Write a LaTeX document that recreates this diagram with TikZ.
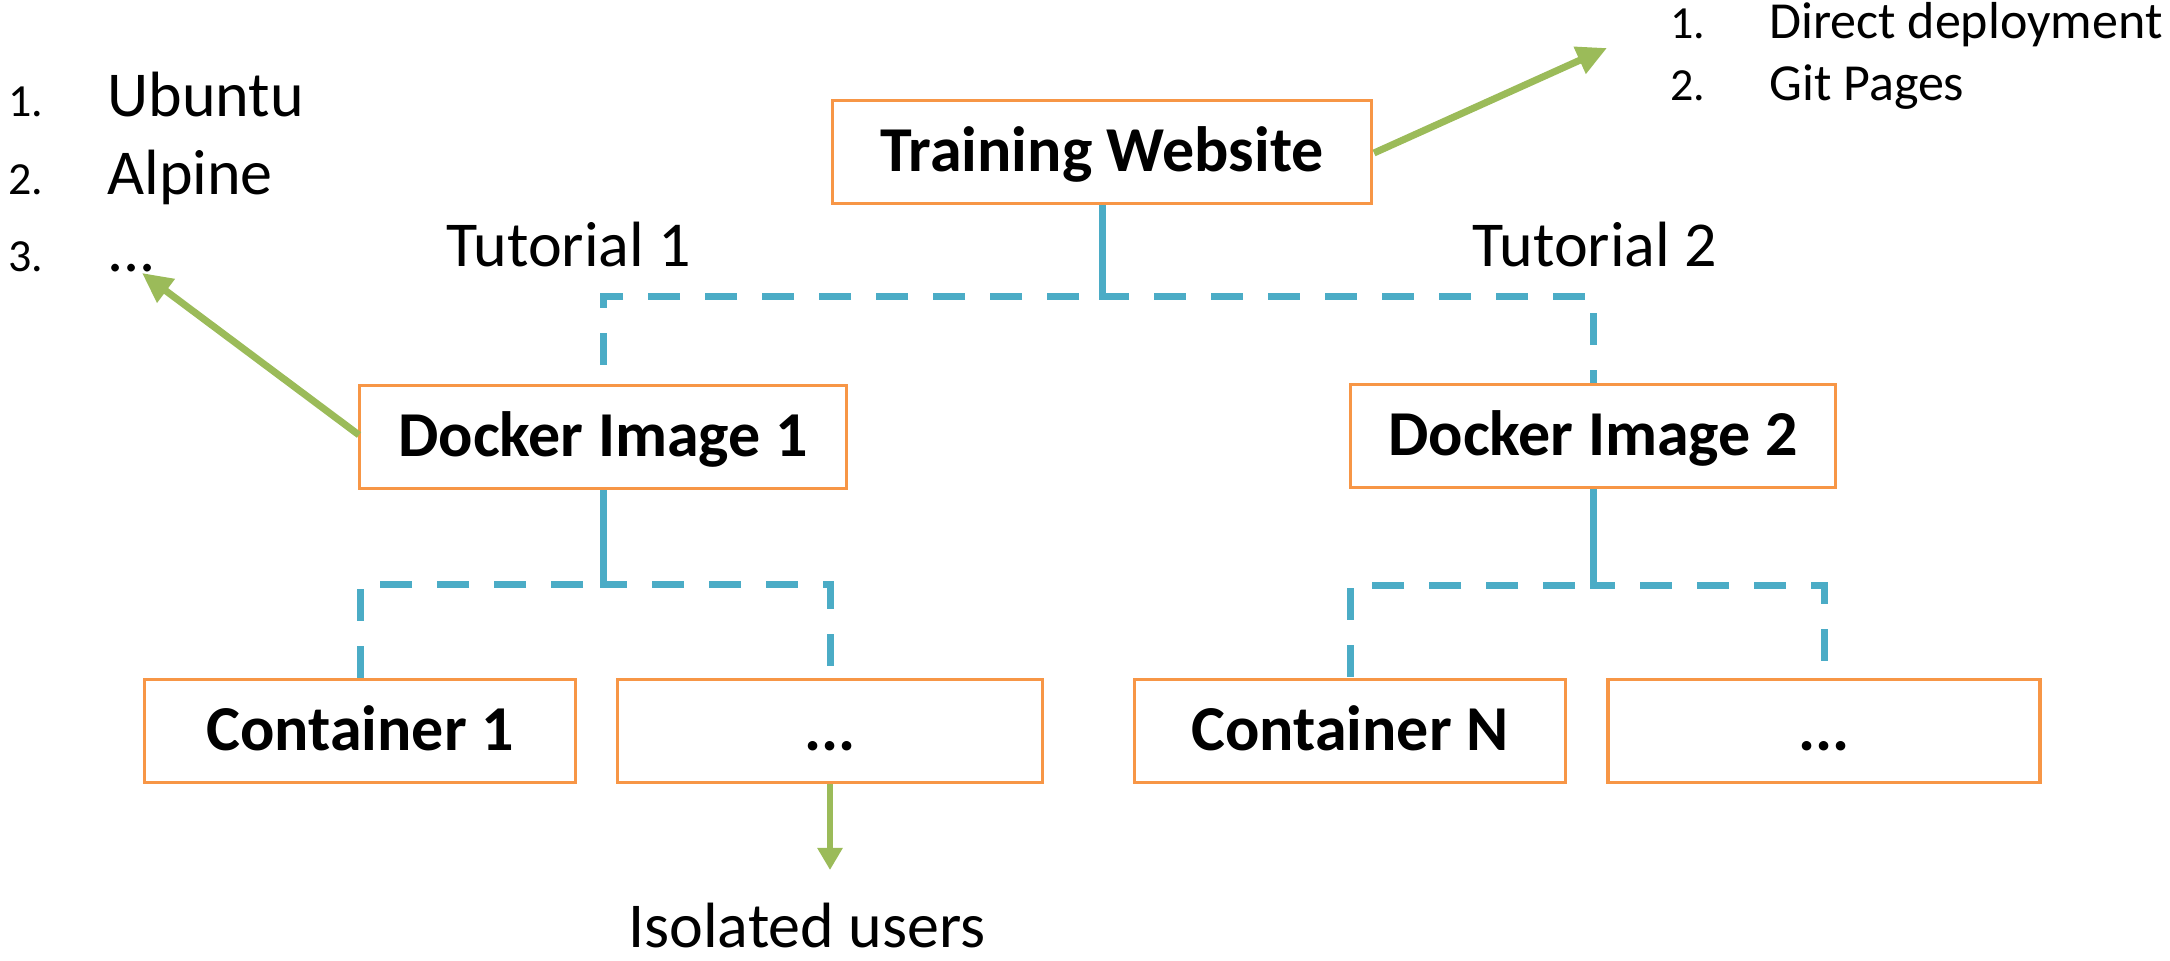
\documentclass[tikz,border=0pt]{standalone}
\usepackage{fontspec}
\setmainfont{Carlito}
\usetikzlibrary{arrows.meta}
\definecolor{boxorange}{HTML}{F79646}
\definecolor{connblue}{HTML}{4BACC6}
\definecolor{arrowgreen}{HTML}{9BBB59}
\begin{document}
\begin{tikzpicture}[x=0.5pt,y=-0.5pt,
  box/.style={draw=boxorange, line width=1.75pt, fill=white, minimum height=51.5pt, inner sep=0pt, text height=20pt, text depth=0pt, font=\fontsize{32}{38}\selectfont\bfseries},
  conn/.style={draw=connblue, line width=3.5pt, dash pattern=on 16pt off 12.5pt},
  garrow/.style={draw=arrowgreen, line width=3.5pt, -{Triangle[length=15pt,width=14pt]}},
  garrowthin/.style={draw=arrowgreen, line width=3pt, -{Triangle[length=11pt,width=12pt]}},
  lbl/.style={anchor=base west, inner sep=0pt, font=\fontsize{32}{38}\selectfont},
  num/.style={anchor=base west, inner sep=0pt, font=\fontsize{23}{28}\selectfont},
  small/.style={anchor=base west, inner sep=0pt, font=\fontsize{26}{31}\selectfont},
  smallnum/.style={anchor=base west, inner sep=0pt, font=\fontsize{23}{28}\selectfont},
]
\useasboundingbox (0,0) rectangle (2170,961);

% boxes
\node[box, minimum width=269.5pt] (tw) at (1102,152) {Training Website};
\node[box, minimum width=243.5pt] (d1) at (603,437) {Docker Image 1};
\node[box, minimum width=242.5pt] (d2) at (1593,436) {Docker Image 2};
\node[box, minimum width=215.5pt] (c1) at (360,731) {Container 1};
\node[box, minimum width=212.5pt] (c1b) at (830,731) {...};
\node[box, minimum width=215.5pt] (cn) at (1350,731) {Container N};
\node[box, minimum width=216pt] (cnb) at (1824,731) {...};

% dashed elbow connectors
\draw[conn] (tw.south) -- ++(0,91) -| (d1.north);
\draw[conn, dash phase=14pt] (tw.south) -- ++(0,91) -| (d2.north);
\draw[conn] (d1.south) -- ++(0,94) -| (c1.north);
\draw[conn, dash phase=14pt] (d1.south) -- ++(0,94) -| (c1b.north);
\draw[conn] (d2.south) -- ++(0,96) -| (cn.north);
\draw[conn, dash phase=14pt] (d2.south) -- ++(0,96) -| (cnb.north);

% labels
\node[lbl] (t1) at (446,267) {Tutorial 1};
\node[lbl] (t2) at (1472,267) {Tutorial 2};

% left list
\node[num] (n1) at (8,117) {1.};
\node[lbl] (ubuntu) at (107,117) {Ubuntu};
\node[num] (n2) at (8,195) {2.};
\node[lbl] (alpine) at (107,195) {Alpine};
\node[num] (n3) at (8,272) {3.};
\node[lbl] (dots) at (107,272) {...};

% right list
\node[smallnum] (m1) at (1670,39) {1.};
\node[small] (direct) at (1769,39) {Direct deployment};
\node[smallnum] (m2) at (1670,101) {2.};
\node[small] (git) at (1769,101) {Git Pages};

% isolated users
\node[lbl, text depth=0pt] (iso) at (628,948) {Isolated users};

% green arrows
\coordinate (a1) at (142,273);
\coordinate (a1s) at (359,435);
\coordinate (a2) at (1607,48);
\coordinate (a2s) at (1374,153);
\coordinate (a3) at (830,870);
\draw[garrow] (a1s) -- (a1);
\draw[garrow] (a2s) -- (a2);
\draw[garrowthin] (c1b.south) -- (a3);
\end{tikzpicture}
\end{document}
